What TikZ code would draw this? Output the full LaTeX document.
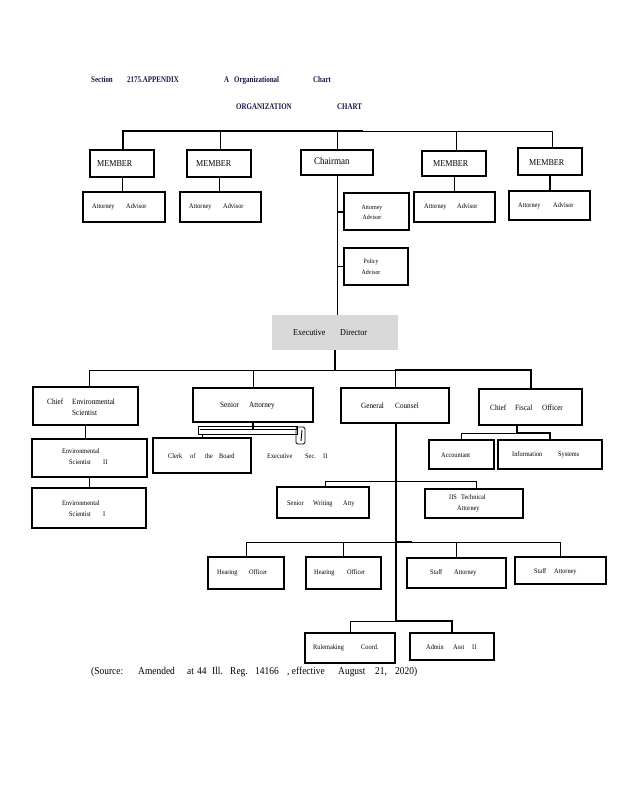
\documentclass[tikz,border=0pt]{standalone}
\usepackage{fontspec}
\setmainfont{Liberation Serif}
\newfontfamily\tms[FakeStretch=0.9]{Liberation Serif}
\newfontfamily\hdr[FakeStretch=0.8]{Liberation Serif}
\newcommand\fsz[1]{\fontsize{#1}{#1}\selectfont}
\newcommand\fszb[2]{\fontsize{#1}{#2}\selectfont}
\definecolor{navy}{RGB}{25,25,70}
\definecolor{edgray}{RGB}{217,217,217}
\tikzset{
  box/.style={draw, line width=2.2pt, inner sep=0pt, outer sep=0pt},
  thn/.style={line width=1pt},
  thk/.style={line width=2pt},
  lbl/.style={inner sep=0pt, anchor=west, font=\tms\fsz{7}},
  lblm/.style={inner sep=0pt, anchor=west, font=\tms\fsz{8}},
  lblb/.style={inner sep=0pt, anchor=west, font=\tms\fsz{9}},
  hd/.style={inner sep=0pt, anchor=west, font=\hdr\bfseries\fsz{8.7}, text=navy}
}
\newcommand\bx[6][box]{\node[#1, anchor=north west, minimum width={#5-#3}, minimum height={#6-#4}] (#2) at (#3,#4) {};}
\begin{document}
\begin{tikzpicture}[x=1pt,y=-1pt]
\useasboundingbox (0,0) rectangle (618,800);
% header
\node[hd] (h1) at (91,80) {\makebox[36pt][l]{Section}\makebox[97pt][l]{2175.APPENDIX}\makebox[10pt][l]{A}\makebox[79pt][l]{Organizational}Chart};
\node[hd] (h2) at (236,107) {\makebox[101pt][l]{ORGANIZATION}CHART};
% boxes
\bx{m1}{90}{150}{154}{177}
\bx{m2}{187}{150}{251}{177}
\bx{chair}{301}{150}{373}{175}
\bx{m4}{422}{151}{486}{176}
\bx{m5}{518}{148}{582}{175}
\bx{aa1}{83}{192}{165}{222}
\bx{aa2}{180}{192}{261}{222}
\bx{aa4}{414}{192}{495}{222}
\bx{aa5}{509}{191}{590}{220}
\bx{aa3}{344}{193}{409}{230}
\bx{pol}{344}{248}{408}{285}
\bx[fill=edgray,inner sep=0pt,outer sep=0pt]{ed}{272}{315}{398}{350}
\bx{ces}{33}{387}{138}{425}
\bx{es2}{32}{439}{147}{477}
\bx{es1}{32}{488}{146}{528}
\bx{sa}{193}{388}{313}{422}
\bx{clerk}{153}{438}{251}{473}
\bx{gc}{341}{388}{449}{423}
\bx{cfo}{479}{389}{582}{425}
\bx{acct}{429}{440}{494}{469}
\bx{is}{498}{440}{602}{469}
\bx{swa}{277}{487}{369}{518}
\bx{iis}{425}{489}{523}{518}
\bx{ho1}{208}{557}{284}{589}
\bx{ho2}{306}{557}{381}{589}
\bx{sa1}{407}{558}{506}{588}
\bx{sa2}{515}{557}{606}{584}
\bx{rule}{305}{633}{395}{663}
\bx{admin}{410}{633}{494}{660}
% labels
\node[lblb] (tm1) at (97,164) {MEMBER};
\node[lblb] (tm2) at (196,164) {MEMBER};
\node[inner sep=0pt,anchor=west,font=\tms\fsz{10}] (tch) at (314,161) {Chairman};
\node[lblb] (tm4) at (433,164) {MEMBER};
\node[lblb] (tm5) at (529,163) {MEMBER};
\node[lbl] (ta1) at (92,207) {\makebox[34pt][l]{Attorney}Advisor};
\node[lbl] (ta2) at (189,207) {\makebox[34pt][l]{Attorney}Advisor};
\node[lbl] (ta4) at (424,207) {\makebox[33pt][l]{Attorney}Advisor};
\node[lbl] (ta5) at (518,206) {\makebox[35pt][l]{Attorney}Advisor};
\node[inner sep=0pt,align=center,font={\tms\fszb{6.5}{9.5}}] (ta3) at (372,212.5) {Attorney\\Advisor};
\node[inner sep=0pt,align=center,font={\tms\fszb{6.5}{11}}] (tpol) at (371,266.5) {Policy\\Advisor};
\node[lblb] (ted) at (293,333) {\makebox[47pt][l]{Executive}Director};
\node[inner sep=0pt,anchor=west,align=left,font={\tms\fszb{8}{11}}] (tces) at (47,407.5) {\makebox[25pt][l]{Chief}Environmental\\\hspace*{25pt}Scientist};
\node[inner sep=0pt,anchor=west,align=left,font={\tms\fszb{7}{11}}] (tes2) at (62,456.5) {Environmental\\\hspace*{7pt}\makebox[34pt][l]{Scientist}II};
\node[inner sep=0pt,anchor=west,align=left,font={\tms\fszb{7}{11}}] (tes1) at (62,508.5) {Environmental\\\hspace*{7pt}\makebox[34pt][l]{Scientist}I};
\node[lblm] (tsa) at (220,406) {\makebox[29pt][l]{Senior}Attorney};
\node[lbl] (tclerk) at (168,456) {\makebox[22pt][l]{Clerk}\makebox[15pt][l]{of}\makebox[14pt][l]{the}Board};
\node[lbl] (tes) at (267,456) {\makebox[38pt][l]{Executive}\makebox[18pt][l]{Sec.}II};
\node[lblm] (tgc) at (361,406) {\makebox[34pt][l]{General}Counsel};
\node[lblm] (tcfo) at (490,408) {\makebox[25pt][l]{Chief}\makebox[27pt][l]{Fiscal}Officer};
\node[lbl] (tacct) at (441,455) {Accountant};
\node[lbl] (tis) at (512,455) {\makebox[46pt][l]{Information}Systems};
\node[lbl] (tswa) at (287,504) {\makebox[26pt][l]{Senior}\makebox[30pt][l]{Writing}Atty};
\node[inner sep=0pt,anchor=west,align=left,font={\tms\fszb{7}{11}}] (tiis) at (449,503.5) {\makebox[12pt][l]{IIS}Technical\\\hspace*{8pt}Attorney};
\node[lbl] (tho1) at (217,573) {\makebox[32pt][l]{Hearing}Officer};
\node[lbl] (tho2) at (314,573) {\makebox[33pt][l]{Hearing}Officer};
\node[lbl] (tsa1) at (430,573) {\makebox[24pt][l]{Staff}Attorney};
\node[lbl] (tsa2) at (534,572) {\makebox[20pt][l]{Staff}Attorney};
\node[lbl] (trule) at (313,648) {\makebox[48pt][l]{Rulemaking}Coord.};
\node[lbl] (tadmin) at (426,647) {\makebox[27pt][l]{Admin}\makebox[19pt][l]{Asst}II};
\node[inner sep=0pt,anchor=west,font=\tms\fsz{10.5}] (src) at (91,672) {\makebox[47pt][l]{(Source:}\makebox[49pt][l]{Amended}\makebox[10pt][l]{at}\makebox[15pt][l]{44}\makebox[18pt][l]{Ill.}\makebox[25pt][l]{Reg.}\makebox[32pt][l]{14166}\makebox[51pt][l]{, effective}\makebox[37pt][l]{August}\makebox[20pt][l]{21,}2020)};
% top bus
\coordinate (b1) at (123,131);
\coordinate (bT) at (363,131);
\coordinate (b2) at (220,131);
\coordinate (b3) at (337,131);
\coordinate (b4) at (456,131);
\coordinate (bR) at (552,131);
\draw[thk] (b1 |- m1.north) -- (b1) -- (bT);
\draw[thn] (bT) -- (bR) -- (bR |- m5.north);
\draw[thn] (b2) -- (b2 |- m2.north);
\draw[thn] (b3) -- (chair.north);
\draw[thn] (b4) -- (b4 |- m4.north);
\draw[thn] (m1.south) -- (m1.south |- aa1.north);
\draw[thn] (m2.south) -- (m2.south |- aa2.north);
\draw[thn] (m4.south) -- (m4.south |- aa4.north);
\draw[thk] (m5.south) -- (m5.south |- aa5.north);
% chairman line
\draw[thn] (chair.south) -- (chair.south |- ed.north);
\draw[thk] (chair.south |- aa3.west) -- (aa3.west);
\draw[thn] (chair.south |- pol.west) -- (pol.west);
% ED level
\coordinate (l0) at (89,370);
\coordinate (l1) at (395,370);
\coordinate (l2) at (531,370);
\draw[thk] (ed.south) -- (ed.south |- l0);
\draw[thn] (l0 |- ces.north) -- (l0) -- (l1);
\draw[thk] (l1) -- (l2) -- (l2 |- cfo.north);
\draw[thn] (sa.north |- l0) -- (sa.north);
\draw[thn] (l1) -- (gc.north);
\draw[thn] (ces.south) -- (ces.south |- es2.north);
\draw[thn] (es2.south) -- (es2.south |- es1.north);
% senior attorney bracket
\coordinate (brk) at (202,434);
\draw[thk] (sa.south) -- ++(0,8);
\draw[line width=0.9pt] (198,426) rectangle (297,434);
\draw[line width=0.9pt] (200,429.5) -- (297,429.5);
\draw[line width=0.9pt, rounded corners=1.5pt] (296,427) rectangle (305,444);
\draw[line width=0.9pt] (302,430) -- (301,441);
\draw[thn] (brk) -- (brk |- clerk.north);
% CFO children
\coordinate (f0) at (517,433);
\draw[thk] (f0 |- cfo.south) -- (f0);
\draw[thn] (acct.north) -- (acct.north |- f0) -- (f0);
\draw[thk] (f0) -- (is.north |- f0) -- (is.north);
% GC line
\coordinate (r0) at (396,621);
\draw[thk] (gc.south -| r0) -- (r0);
\coordinate (w1) at (325,481);
\coordinate (w2) at (476,481);
\draw[thn] (w1 |- swa.north) -- (w1) -- (w2) -- (w2 |- iis.north);
\coordinate (hh) at (396,542);
\draw[thn] (ho1.north) -- (ho1.north |- hh) -- (sa2.north |- hh) -- (sa2.north);
\draw[thn] (ho2.north |- hh) -- (ho2.north);
\draw[thn] (sa1.north |- hh) -- (sa1.north);
\draw[thk] (hh) -- ++(16,0);
\draw[thn] (rule.north) -- (rule.north |- r0) -- (r0);
\draw[thk] (r0) -- (admin.north |- r0) -- (admin.north);
\end{tikzpicture}
\end{document}
